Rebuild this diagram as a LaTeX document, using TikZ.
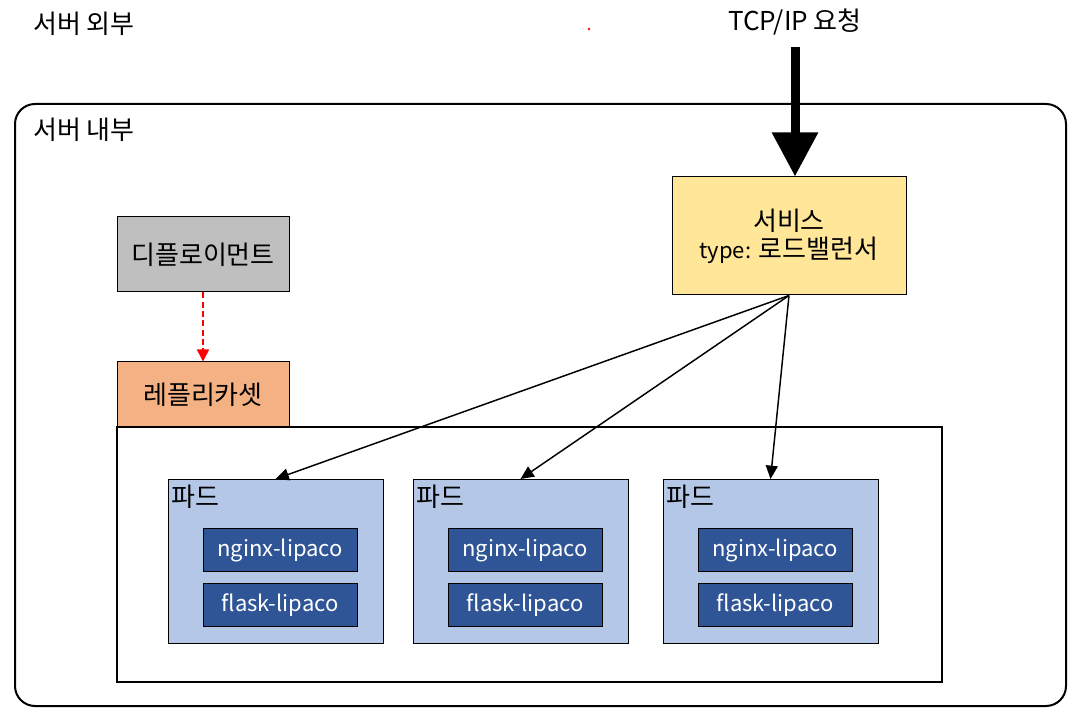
\documentclass[tikz,border=0pt]{standalone}
\usepackage{fontspec}
\setmainfont{Noto Sans CJK KR}
\usetikzlibrary{arrows.meta,calc}
\definecolor{svcfill}{HTML}{FFE699}
\definecolor{deployfill}{HTML}{BFBFBF}
\definecolor{rsfill}{HTML}{F4B183}
\definecolor{podfill}{HTML}{B4C7E7}
\definecolor{ctrfill}{HTML}{2F5597}
\newcommand{\lat}[1]{{\fontsize{16.5}{21}\selectfont #1}}
\tikzstyle{box}=[draw, line width=0.75pt, inner sep=0pt, align=center]
\tikzstyle{podbox}=[box, fill=podfill, minimum width=161.25pt, minimum height=123pt]
\tikzstyle{ctrbox}=[box, fill=ctrfill, text=white, minimum width=115.5pt, minimum height=32.25pt, font=\fontsize{16.5}{21}\selectfont]
\tikzstyle{link}=[-{Triangle[width=9pt,length=10pt]}, line width=1.1pt]
\tikzstyle{owns}=[-{Triangle[width=9pt,length=9pt]}, red, line width=1.1pt, dash pattern=on 4.5pt off 2.5pt]
\tikzstyle{request}=[-{Triangle[width=33pt,length=33pt]}, line width=6.75pt]
\newcommand{\drawpod}[2]{
\pgfmathsetmacro{\podx}{#2}
\node[podbox] (pod#1) at (\podx,561.5) {};
\node[anchor=north west, inner sep=0pt] (podlabel#1) at ($(pod#1.north west)+(4,6)$) {파드};
\node[ctrbox] (nginx#1) at ($(pod#1.center)+(4.5,-11)$) {nginx-lipaco};
\node[ctrbox] (flask#1) at ($(pod#1.center)+(4.5,44)$) {flask-lipaco};
}

\begin{document}
\begin{tikzpicture}[x=0.75pt, y=-0.75pt, font=\fontsize{19.5}{21}\selectfont]
	\useasboundingbox (0,0) rectangle (1090,716);
	\node[anchor=west, inner sep=0pt] (outside) at (33,24) {서버 외부};
	\fill[red] (589,29) circle (1.1pt);
	\node (req) at (795,22) {TCP/IP 요청};
	\draw[line width=1.5pt, rounded corners=15pt] (15,104) rectangle (1066,706);
	\node[anchor=west, inner sep=0pt] (inside) at (33,130) {서버 내부};

	\node[box, fill=svcfill, minimum width=175.5pt, minimum height=88.5pt] (svc) at (789,236) {서비스\\\lat{type:} 로드밸런서};
	\coordinate (reqstart) at (795,47);
	\draw[request] (reqstart) -- (reqstart |- svc.north);

	\node[box, fill=deployfill, minimum width=129pt, minimum height=56.25pt] (deploy) at (203,254.5) {디플로이먼트};
	\node[draw, line width=1.6pt, minimum width=618.75pt, minimum height=191.25pt] (rsarea) at (529.5,554.5) {};
	\node[box, fill=rsfill, minimum width=129pt, minimum height=48.75pt] (rs) at (203,394.5) {레플리카셋};
	\draw[owns] (deploy) -- (rs);

	\foreach \i/\x in {1/275.5, 2/520.5, 3/770.5} {
		\drawpod{\i}{\x}
		\draw[link] (svc.south) -- (pod\i.north);
	}
\end{tikzpicture}
\end{document}
